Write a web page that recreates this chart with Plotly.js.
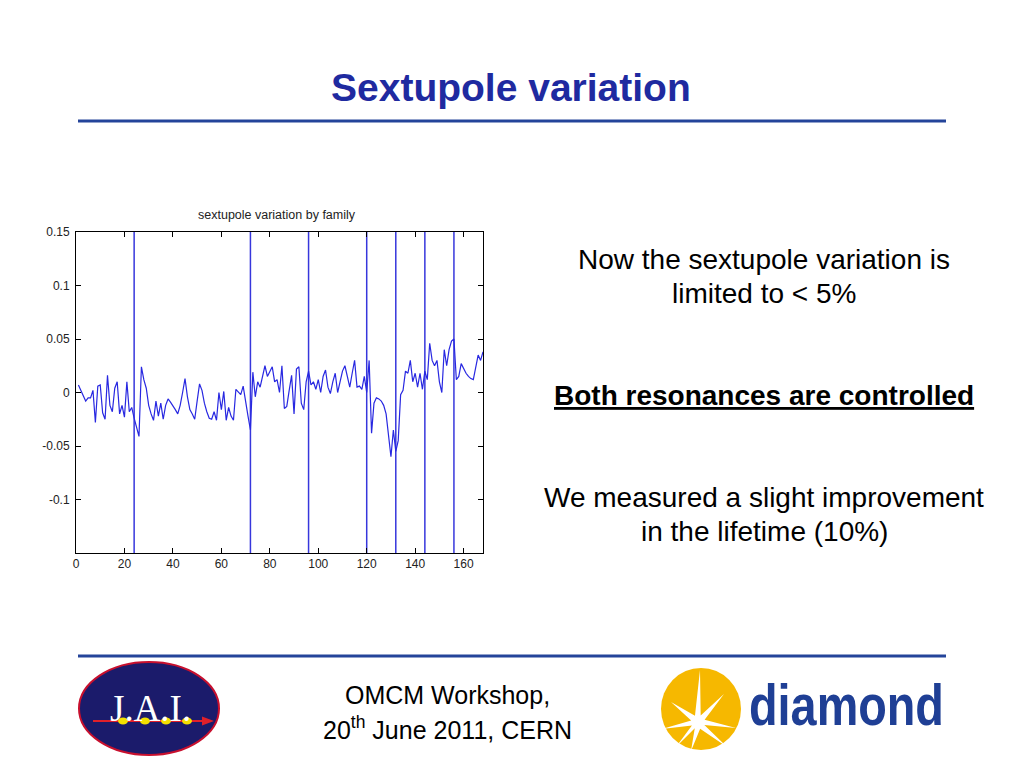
<!DOCTYPE html>
<html>
<head>
<meta charset="utf-8">
<script src="https://cdn.plot.ly/plotly-3.0.1.min.js"></script>
<style>
  html, body { margin: 0; padding: 0; background: #ffffff; }
  #chart { width: 1024px; height: 768px; }
</style>
</head>
<body>
<div id="chart"></div>
<script>
// ---- data ----
const sextupoleIndex = Array.from({length: 168}, (_, i) => i + 1);
const variation = [
  0.007, 0.001, -0.003, -0.008, -0.005, -0.005, 0.002, -0.028, 0.006, 0.007, -0.019, -0.025,
  0.016, -0.012, -0.018, 0.004, 0.010, -0.020, -0.012, -0.023, 0.010, -0.018, -0.014, -0.024,
  -0.033, -0.041, 0.024, 0.012, 0.004, -0.012, -0.020, -0.026, -0.008, -0.022, -0.010, -0.025,
  -0.012, -0.006, -0.009, -0.012, -0.016, -0.020, -0.012, 0.000, 0.013, -0.004, -0.016, -0.020,
  -0.025, -0.008, 0.008, 0.002, -0.010, -0.018, -0.024, -0.025, -0.018, -0.026, 0.000, -0.016,
  0.001, -0.026, -0.014, -0.022, -0.026, 0.003, 0.000, -0.002, 0.006, -0.010, -0.022, -0.035,
  0.019, -0.004, 0.010, 0.005, 0.015, 0.025, 0.015, 0.020, 0.024, 0.010, 0.012, 0.000,
  0.025, -0.015, -0.013, 0.002, 0.016, -0.020, 0.022, 0.024, -0.010, -0.016, 0.010, 0.020,
  0.007, 0.010, 0.003, 0.012, 0.000, 0.015, 0.021, 0.005, -0.001, 0.010, 0.018, 0.000,
  0.010, 0.020, 0.025, 0.015, 0.005, 0.018, 0.030, 0.005, 0.006, 0.003, 0.015, 0.000,
  0.030, -0.038, -0.010, -0.005, -0.006, -0.008, -0.012, -0.020, -0.040, -0.060, -0.035, -0.055,
  -0.045, -0.002, 0.002, 0.020, 0.018, 0.030, 0.010, 0.018, 0.005, 0.018, 0.003, 0.020,
  0.012, 0.046, 0.030, 0.025, 0.030, 0.010, 0.000, 0.040, 0.025, 0.040, 0.048, 0.050,
  0.012, 0.015, 0.027, 0.022, 0.018, 0.015, 0.013, 0.012, 0.025, 0.035, 0.030, 0.038
];
const familyBounds = [24, 72, 96, 120, 132, 144, 156];
const xRange = [0, 168];
const yRange = [-0.15, 0.15];
const xTicks = [0, 20, 40, 60, 80, 100, 120, 140, 160];
const yTicks = [-0.1, -0.05, 0, 0.05, 0.1, 0.15];
const yTickLabels = ['-0.1', '-0.05', '0', '0.05', '0.1', '0.15'];

// ---- layout helpers (pixel -> paper) ----
const L = 76, T = 232, PW = 407, PH = 321;
const px = x => (x - L) / PW;
const py = y => (T + PH - y) / PH;

// family boundary lines built from data
const bx = [], by = [];
familyBounds.forEach(b => { bx.push(b, b, null); by.push(yRange[0], yRange[1], null); });

const traces = [
  { x: bx, y: by, type: 'scatter', mode: 'lines', hoverinfo: 'skip',
    line: { color: 'rgb(55,55,220)', width: 1.5 } },
  { x: sextupoleIndex, y: variation, type: 'scatter', mode: 'lines',
    line: { color: 'rgb(40,40,225)', width: 1.2 } }
];

const FONT = 'Liberation Sans, Arial, Helvetica, sans-serif';
function ann(text, x, y, size, opts) {
  return Object.assign({
    text: text, xref: 'paper', yref: 'paper', x: px(x), y: py(y),
    xanchor: 'center', yanchor: 'middle', showarrow: false,
    font: { family: FONT, size: size, color: '#000000' }
  }, opts || {});
}

// diamond star path
const starC = [698, 722];
const starTips = [[700, 670], [724, 694], [736, 728], [727, 747], [691, 751], [676, 747], [662, 729], [671, 702]];
function starPath() {
  const ang = starTips.map(t => Math.atan2(t[1] - starC[1], t[0] - starC[0]));
  let d = '';
  starTips.forEach((t, i) => {
    const a1 = ang[i], a2 = ang[(i + 1) % ang.length];
    let mid = (a1 + a2) / 2;
    if (a2 < a1) mid += Math.PI;
    const ix = starC[0] + 7 * Math.cos(mid), iy = starC[1] + 7 * Math.sin(mid);
    d += (i === 0 ? 'M' : 'L') + px(t[0]) + ',' + py(t[1]) + ' L' + px(ix) + ',' + py(iy) + ' ';
  });
  return d + 'Z';
}

const shapes = [
  // rules
  { type: 'line', xref: 'paper', yref: 'paper', x0: px(78), x1: px(946), y0: py(121), y1: py(121),
    line: { color: '#24449a', width: 3 } },
  { type: 'line', xref: 'paper', yref: 'paper', x0: px(78), x1: px(946), y0: py(656), y1: py(656),
    line: { color: '#24449a', width: 3 } },
  // JAI logo
  { type: 'circle', xref: 'paper', yref: 'paper', x0: px(79), x1: px(219), y0: py(755), y1: py(662),
    fillcolor: '#1b1b6b', line: { color: '#c8102e', width: 2 } },
  { type: 'line', xref: 'paper', yref: 'paper', x0: px(93), x1: px(205), y0: py(721), y1: py(721),
    line: { color: '#e0202a', width: 2 } },
  { type: 'path', xref: 'paper', yref: 'paper',
    path: 'M' + px(202) + ',' + py(716.5) + ' L' + px(214) + ',' + py(721) + ' L' + px(202) + ',' + py(725.5) + ' Z',
    fillcolor: '#e0202a', line: { width: 0 } },
  // diamond logo circle & star
  { type: 'circle', xref: 'paper', yref: 'paper', x0: px(661), x1: px(741), y0: py(750), y1: py(668),
    fillcolor: '#f6b800', line: { width: 0 } },
  { type: 'path', xref: 'paper', yref: 'paper', path: starPath(), fillcolor: '#ffffff', line: { width: 0 } }
];
[123, 145, 166, 187].forEach(x => {
  shapes.push({ type: 'circle', xref: 'paper', yref: 'paper', x0: px(x - 5), x1: px(x + 5), y0: py(724.5), y1: py(717.5),
    fillcolor: '#f3e000', line: { width: 0 } });
});

const annotations = [
  ann('<b>Sextupole variation</b>', 511, 88, 39, { font: { family: FONT, size: 39, color: '#1f2aa0' } }),
  ann('sextupole variation by family', 277, 215, 12.5, { font: { family: FONT, size: 12.5, color: '#222222' } }),
  ann('Now the sextupole variation is', 764, 259, 28),
  ann('limited to &lt; 5%', 764, 293, 28),
  ann('<b><u>Both resonances are controlled</u></b>', 764, 395, 28),
  ann('We measured a slight improvement', 764, 497, 28),
  ann('in the lifetime (10%)', 764, 531, 28),
  ann('OMCM Workshop,', 447, 695, 25),
  ann('20<sup>th</sup> June 2011, CERN', 447, 728, 25),
  ann('J.A.I.', 150, 708, 37, { font: { family: 'Liberation Serif, Times New Roman, serif', size: 37, color: '#ffffff' } }),
  ann('<b>diamond</b>', 747, 705, 57, { xanchor: 'left',
    font: { family: 'Liberation Sans Narrow, Arial Narrow, Liberation Sans, Arial, sans-serif', size: 57, color: '#1f3f95' } })
];

const axisCommon = {
  ticks: 'inside', ticklen: 5, tickwidth: 1, tickcolor: '#000000',
  showline: true, linecolor: '#000000', linewidth: 1, mirror: 'ticks',
  showgrid: false, zeroline: false,
  tickfont: { family: FONT, size: 12, color: '#222222' }
};

const layout = {
  width: 1024, height: 768,
  margin: { l: L, r: 1024 - L - PW, t: T, b: 768 - T - PH, pad: 0 },
  paper_bgcolor: '#ffffff', plot_bgcolor: '#ffffff',
  showlegend: false,
  xaxis: Object.assign({}, axisCommon, { range: xRange, tickvals: xTicks, ticktext: xTicks.map(String) }),
  yaxis: Object.assign({}, axisCommon, { range: yRange, tickvals: yTicks, ticktext: yTickLabels, ticklabelstandoff: 3 }),
  shapes: shapes,
  annotations: annotations
};

Plotly.newPlot('chart', traces, layout, { staticPlot: true, displayModeBar: false }).then(gd => {
  // condense the "diamond" wordmark horizontally to the logo's width
  gd.querySelectorAll('.annotation-text').forEach(t => {
    if (t.textContent === 'diamond') {
      const bb = t.getBBox();
      if (bb.width > 0) {
        const sx = 195 / bb.width;
        t.setAttribute('transform', 'translate(' + bb.x + ',0) scale(' + sx + ',1) translate(' + (-bb.x) + ',0)');
      }
    }
  });
});
</script>
</body>
</html>
